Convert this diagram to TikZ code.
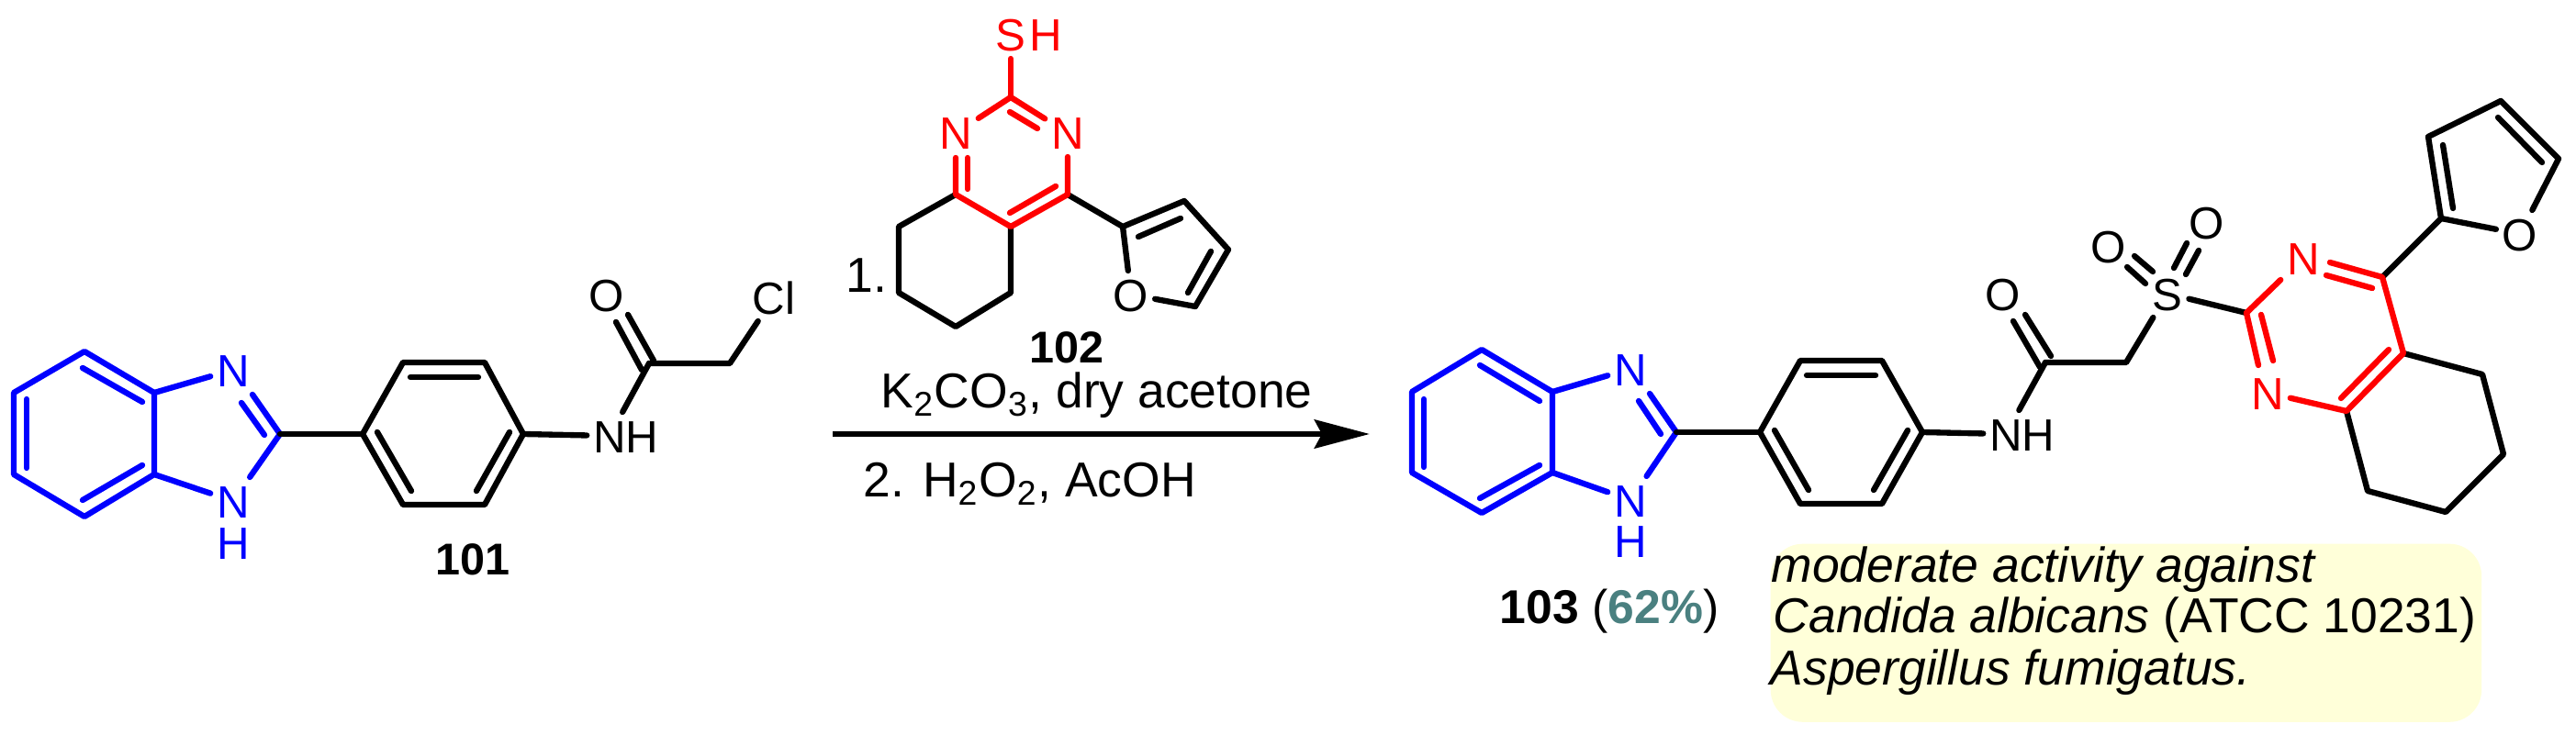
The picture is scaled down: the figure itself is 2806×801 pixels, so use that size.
\documentclass[tikz,border=0pt]{standalone}
\usepackage{fontspec}
\setmainfont{Liberation Sans}
\usetikzlibrary{arrows.meta}
\definecolor{ringblue}{HTML}{0000FF}
\definecolor{ringred}{HTML}{FF0000}
\definecolor{yieldteal}{HTML}{4A8080}
\definecolor{infoyellow}{HTML}{FFFFD9}
\tikzset{
  bond/.style={line width=1.8pt, line cap=round, line join=round},
  bluebond/.style={bond, ringblue},
  redbond/.style={bond, ringred},
  atom/.style={font=\fontsize{14}{16}\selectfont, text height=.36cm, text depth=0pt, inner xsep=.07cm, inner ysep=.08cm, outer sep=0pt},
  chemtext/.style={font=\fontsize{15.2}{18}\selectfont, anchor=base west, inner sep=0pt},
  cmpd/.style={font=\fontsize{13.8}{16}\selectfont\bfseries, anchor=base, inner sep=0pt}
}
\begin{document}
\begin{tikzpicture}[x=.01cm, y=-.01cm]
  \useasboundingbox (0,0) rectangle (2806,801);
  % Compound 101
  \coordinate (a1) at (92,383);
  \coordinate (a2) at (15,428);
  \coordinate (a3) at (15,517);
  \coordinate (a4) at (92,563);
  \coordinate (a5) at (168,517);
  \coordinate (a6) at (168,428);
  \coordinate (a7) at (305,473);
  \coordinate (a8) at (395,473);
  \coordinate (a9) at (439,395);
  \coordinate (a10) at (528,395);
  \coordinate (a11) at (570,473);
  \coordinate (a12) at (528,550);
  \coordinate (a13) at (439,550);
  \coordinate (a14) at (707,396);
  \coordinate (a15) at (795,396);
  \node (a-n1) [atom, ringblue] at (254,403) {N};
  \node (a-n2) [atom, ringblue] at (254,546) {N};
  \node (a-h2) [atom, ringblue] at (254,591) {H};
  \node (a-n3) [atom] at (664,475) {N};
  \node (a-h3) [atom] at (699,475) {H};
  \node (a-o) [atom] at (661,322) {O};
  \node (a-cl) [atom] at (843,324) {Cl};
  \node (c-101) [cmpd] at (515,627) {101};
  % Inner lines of 101
  \coordinate (ai1) at (29,435);
  \coordinate (ai2) at (29,510);
  \coordinate (ai3) at (90,401);
  \coordinate (ai4) at (155,438);
  \coordinate (ai5) at (90,545);
  \coordinate (ai6) at (155,507);
  \coordinate (ai7) at (275,430);
  \coordinate (ai8) at (288,474);
  \coordinate (ai9) at (263,439);
  \coordinate (ai10) at (447,411);
  \coordinate (ai11) at (521,411);
  \coordinate (ai12) at (411,471);
  \coordinate (ai13) at (448,535);
  \coordinate (ai14) at (555,471);
  \coordinate (ai15) at (519,535);
  \coordinate (ai16) at (684,343);
  \coordinate (ai17) at (712,393);
  \coordinate (ai18) at (671,351);
  \coordinate (ai19) at (699,403);
  % Bonds of 101
  \draw[bluebond] (a1) -- (a2) -- (a3) -- (a4) -- (a5) -- (a6) -- cycle;
  \draw[bluebond] (ai1) -- (ai2);
  \draw[bluebond] (ai3) -- (ai4);
  \draw[bluebond] (ai5) -- (ai6);
  \draw[bluebond] (a6) -- (a-n1);
  \draw[bluebond] (a5) -- (a-n2);
  \draw[bluebond] (a7) -- (ai7);
  \draw[bluebond] (ai8) -- (ai9);
  \draw[bluebond] (a7) -- (a-n2);
  \draw[bond] (a7) -- (a8);
  \draw[bond] (a8) -- (a9) -- (a10) -- (a11) -- (a12) -- (a13) -- cycle;
  \draw[bond] (ai10) -- (ai11);
  \draw[bond] (ai12) -- (ai13);
  \draw[bond] (ai14) -- (ai15);
  \draw[bond] (a11) -- (a-n3);
  \draw[bond] (a-n3) -- (a14);
  \draw[bond] (a14) -- (a15) -- (a-cl);
  \draw[bond] (ai16) -- (ai17);
  \draw[bond] (ai18) -- (ai19);
  % Compound 102
  \coordinate (b1) at (1101,106);
  \coordinate (b2) at (1041,212);
  \coordinate (b3) at (1101,247);
  \coordinate (b4) at (1163,212);
  \coordinate (b5) at (979,247);
  \coordinate (b6) at (979,319);
  \coordinate (b7) at (1041,356);
  \coordinate (b8) at (1101,319);
  \coordinate (b9) at (1223,247);
  \coordinate (b10) at (1290,219);
  \coordinate (b11) at (1338,272);
  \coordinate (b12) at (1302,334);
  \node (b-s) [atom, ringred] at (1101,38) {S};
  \node (b-h) [atom, ringred] at (1139,38) {H};
  \node (b-n1) [atom, ringred] at (1041,145) {N};
  \node (b-n2) [atom, ringred] at (1163,145) {N};
  \node (b-o) [atom] at (1232,321) {O};
  \node (c-102) [cmpd] at (1162,396) {102};
  % Inner lines of 102
  \coordinate (bi1) at (1041,172);
  \coordinate (bi2) at (1054,172);
  \coordinate (bi3) at (1054,206);
  \coordinate (bi4) at (1100,122);
  \coordinate (bi5) at (1130,140);
  \coordinate (bi6) at (1150,203);
  \coordinate (bi7) at (1100,232);
  \coordinate (bi8) at (1240,258);
  \coordinate (bi9) at (1286,238);
  \coordinate (bi10) at (1319,274);
  \coordinate (bi11) at (1294,319);
  % Bonds of 102
  \draw[bond] (b2) -- (b5) -- (b6) -- (b7) -- (b8) -- (b3);
  \draw[bond] (b4) -- (b9) -- (b10) -- (b11) -- (b12) -- (b-o);
  \draw[bond] (b9) -- (b-o);
  \draw[bond] (bi8) -- (bi9);
  \draw[bond] (bi10) -- (bi11);
  \draw[redbond] (b1) -- (b-s);
  \draw[redbond] (b1) -- (b-n1);
  \draw[redbond] (b1) -- (b-n2);
  \draw[redbond] (bi4) -- (bi5);
  \draw[redbond] (b-n2) -- (b4) -- (b3) -- (b2) -- (bi1);
  \draw[redbond] (bi2) -- (bi3);
  \draw[redbond] (bi6) -- (bi7);
  % Reaction arrow and conditions
  \coordinate (arrow-start) at (907,473);
  \coordinate (arrow-end) at (1492,473);
  \draw[line width=1.95pt, -{Stealth[length=.6cm, width=.31cm, inset=.08cm]}] (arrow-start) -- (arrow-end);
  \node (step-mark) [chemtext] at (921,319) {1.};
  \node (step-one) [chemtext] at (959,445) {K\textsubscript{2}CO\textsubscript{3}, dry acetone};
  \node (step-two) [chemtext] at (940,542) {2. H\textsubscript{2}O\textsubscript{2}, AcOH};
  % Compound 103
  \coordinate (c1) at (1614,381);
  \coordinate (c2) at (1538,427);
  \coordinate (c3) at (1538,515);
  \coordinate (c4) at (1614,559);
  \coordinate (c5) at (1691,515);
  \coordinate (c6) at (1691,427);
  \coordinate (c7) at (1826,471);
  \coordinate (c8) at (1917,471);
  \coordinate (c9) at (1961,393);
  \coordinate (c10) at (2050,393);
  \coordinate (c11) at (2094,471);
  \coordinate (c12) at (2050,549);
  \coordinate (c13) at (1961,549);
  \coordinate (c14) at (2228,395);
  \coordinate (c15) at (2316,395);
  \coordinate (c16) at (2447,341);
  \coordinate (c17) at (2595,302);
  \coordinate (c18) at (2618,385);
  \coordinate (c19) at (2556,448);
  \coordinate (c20) at (2704,408);
  \coordinate (c21) at (2727,495);
  \coordinate (c22) at (2664,558);
  \coordinate (c23) at (2579,535);
  \coordinate (c24) at (2659,238);
  \coordinate (c25) at (2645,149);
  \coordinate (c26) at (2724,110);
  \coordinate (c27) at (2787,173);
  \node (c-n1) [atom, ringblue] at (1776,402) {N};
  \node (c-n2) [atom, ringblue] at (1776,545) {N};
  \node (c-h2) [atom, ringblue] at (1776,589) {H};
  \node (c-n3) [atom] at (2185,473) {N};
  \node (c-h3) [atom] at (2220,473) {H};
  \node (c-o1) [atom] at (2182,320) {O};
  \node (c-s) [atom] at (2361,320) {S};
  \node (c-o2) [atom] at (2297,268) {O};
  \node (c-o3) [atom] at (2404,243) {O};
  \node (c-n4) [atom, ringred] at (2509,281) {N};
  \node (c-n5) [atom, ringred] at (2470,428) {N};
  \node (c-o4) [atom] at (2745,255) {O};
  % Inner lines of 103
  \coordinate (ci1) at (1551,435);
  \coordinate (ci2) at (1551,509);
  \coordinate (ci3) at (1612,398);
  \coordinate (ci4) at (1677,437);
  \coordinate (ci5) at (1612,543);
  \coordinate (ci6) at (1677,507);
  \coordinate (ci7) at (1797,429);
  \coordinate (ci8) at (1809,473);
  \coordinate (ci9) at (1785,437);
  \coordinate (ci10) at (1968,409);
  \coordinate (ci11) at (2043,409);
  \coordinate (ci12) at (1933,469);
  \coordinate (ci13) at (1970,534);
  \coordinate (ci14) at (2078,469);
  \coordinate (ci15) at (2041,534);
  \coordinate (ci16) at (2206,343);
  \coordinate (ci17) at (2234,388);
  \coordinate (ci18) at (2193,350);
  \coordinate (ci19) at (2222,400);
  \coordinate (ci20) at (2325,279);
  \coordinate (ci21) at (2345,296);
  \coordinate (ci22) at (2317,291);
  \coordinate (ci23) at (2337,309);
  \coordinate (ci24) at (2382,265);
  \coordinate (ci25) at (2368,292);
  \coordinate (ci26) at (2395,273);
  \coordinate (ci27) at (2381,299);
  \coordinate (ci28) at (2538,286);
  \coordinate (ci29) at (2534,300);
  \coordinate (ci30) at (2584,314);
  \coordinate (ci31) at (2460,398);
  \coordinate (ci32) at (2463,343);
  \coordinate (ci33) at (2476,393);
  \coordinate (ci34) at (2602,381);
  \coordinate (ci35) at (2550,434);
  \coordinate (ci36) at (2661,158);
  \coordinate (ci37) at (2672,227);
  \coordinate (ci38) at (2721,128);
  \coordinate (ci39) at (2769,177);
  % Bonds of 103
  \draw[bluebond] (c1) -- (c2) -- (c3) -- (c4) -- (c5) -- (c6) -- cycle;
  \draw[bluebond] (ci1) -- (ci2);
  \draw[bluebond] (ci3) -- (ci4);
  \draw[bluebond] (ci5) -- (ci6);
  \draw[bluebond] (c6) -- (c-n1);
  \draw[bluebond] (c5) -- (c-n2);
  \draw[bluebond] (c7) -- (ci7);
  \draw[bluebond] (ci8) -- (ci9);
  \draw[bluebond] (c7) -- (c-n2);
  \draw[bond] (c7) -- (c8);
  \draw[bond] (c8) -- (c9) -- (c10) -- (c11) -- (c12) -- (c13) -- cycle;
  \draw[bond] (ci10) -- (ci11);
  \draw[bond] (ci12) -- (ci13);
  \draw[bond] (ci14) -- (ci15);
  \draw[bond] (c11) -- (c-n3);
  \draw[bond] (c-n3) -- (c14);
  \draw[bond] (c14) -- (c15) -- (c-s);
  \draw[bond] (ci16) -- (ci17);
  \draw[bond] (ci18) -- (ci19);
  \draw[bond] (ci20) -- (ci21);
  \draw[bond] (ci22) -- (ci23);
  \draw[bond] (ci24) -- (ci25);
  \draw[bond] (ci26) -- (ci27);
  \draw[bond] (c-s) -- (c16);
  \draw[bond] (c18) -- (c20) -- (c21) -- (c22) -- (c23) -- (c19);
  \draw[bond] (c17) -- (c24) -- (c25) -- (c26) -- (c27) -- (c-o4);
  \draw[bond] (c24) -- (c-o4);
  \draw[bond] (ci36) -- (ci37);
  \draw[bond] (ci38) -- (ci39);
  \draw[redbond] (c16) -- (c-n4);
  \draw[redbond] (ci28) -- (c17) -- (c18) -- (c19) -- (c-n5);
  \draw[redbond] (ci29) -- (ci30);
  \draw[redbond] (c16) -- (ci31);
  \draw[redbond] (ci32) -- (ci33);
  \draw[redbond] (ci34) -- (ci35);
  \node (c-103) [chemtext, font=\fontsize{14.7}{18}\selectfont] at (1633,680) {\textbf{103} (\textcolor{yieldteal}{\textbf{62\%}})};
  % Activity box
  \node (info) [fill=infoyellow, rounded corners=.35cm, minimum width=7.74cm, minimum height=1.94cm, inner sep=0pt, anchor=north west] at (1928,592) {};
  \node (info-1) [chemtext] at (1929,635) {\textit{moderate activity against}};
  \node (info-2) [chemtext] at (1931,690) {\textit{Candida albicans} (ATCC 10231)};
  \node (info-3) [chemtext] at (1928,747) {\textit{Aspergillus fumigatus.}};
\end{tikzpicture}
\end{document}
